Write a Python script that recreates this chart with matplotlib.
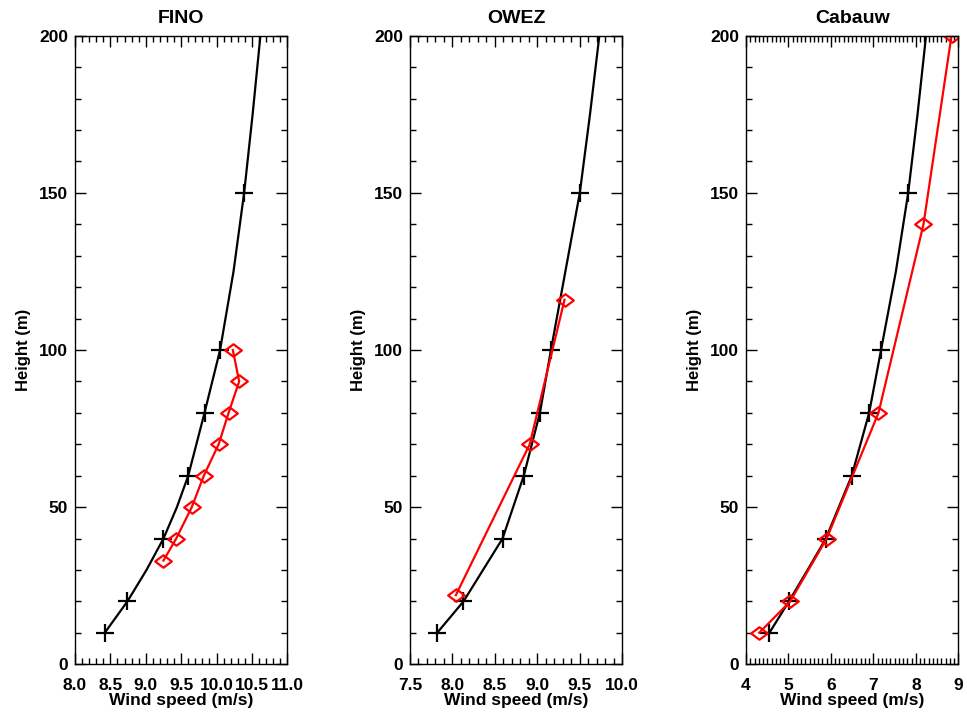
import matplotlib
matplotlib.use("Agg")
import matplotlib.pyplot as plt
from matplotlib.path import Path
from matplotlib.ticker import MultipleLocator, FormatStrFormatter

plt.rcParams['font.family'] = ['Liberation Sans', 'DejaVu Sans']
plt.rcParams['font.weight'] = 'bold'

# FINO
fino_line_h = [10, 20, 30, 40, 50, 60, 80, 100, 125, 150, 175, 200]
fino_line_u = [8.42, 8.74, 9.01, 9.25, 9.44, 9.60, 9.83, 10.05, 10.24, 10.39, 10.51, 10.62]
fino_mark_h = [10, 20, 40, 60, 80, 100, 150]
fino_mark_u = [8.42, 8.74, 9.25, 9.60, 9.83, 10.05, 10.39]
fino_obs_h = [33, 40, 50, 60, 70, 80, 90, 100]
fino_obs_u = [9.25, 9.43, 9.65, 9.82, 10.03, 10.17, 10.32, 10.23]

# OWEZ
owez_line_h = [10, 20, 40, 60, 80, 100, 125, 150, 175, 200]
owez_line_u = [7.82, 8.13, 8.59, 8.84, 9.03, 9.16, 9.33, 9.50, 9.62, 9.73]
owez_mark_h = [10, 20, 40, 60, 80, 100, 150]
owez_mark_u = [7.82, 8.13, 8.59, 8.84, 9.03, 9.16, 9.50]
owez_obs_h = [22, 70, 116]
owez_obs_u = [8.04, 8.91, 9.32]

# Cabauw
cab_line_h = [10, 20, 30, 40, 60, 80, 100, 125, 150, 175, 200]
cab_line_u = [4.55, 5.01, 5.45, 5.88, 6.49, 6.90, 7.18, 7.53, 7.82, 8.04, 8.24]
cab_mark_h = [10, 20, 40, 60, 80, 100, 150]
cab_mark_u = [4.55, 5.01, 5.88, 6.49, 6.90, 7.18, 7.82]
cab_obs_h = [10, 20, 40, 80, 140, 200]
cab_obs_u = [4.31, 5.04, 5.90, 7.12, 8.18, 8.84]

titles = ["FINO", "OWEZ", "Cabauw"]
xlims = [(8.0, 11.0), (7.5, 10.0), (4, 9)]
xmajor = [0.5, 0.5, 1.0]
xfmt = ['%.1f', '%.1f', '%d']

panels = [
    (fino_line_u, fino_line_h, fino_mark_u, fino_mark_h, fino_obs_u, fino_obs_h),
    (owez_line_u, owez_line_h, owez_mark_u, owez_mark_h, owez_obs_u, owez_obs_h),
    (cab_line_u, cab_line_h, cab_mark_u, cab_mark_h, cab_obs_u, cab_obs_h),
]

# wide hollow diamond
diamond = Path([(-1, 0), (0, 0.75), (1, 0), (0, -0.75), (-1, 0)],
               [Path.MOVETO, Path.LINETO, Path.LINETO, Path.LINETO, Path.CLOSEPOLY])

fig = plt.figure(figsize=(9.67, 7.15), dpi=100)
lefts = [0.0776, 0.4240, 0.7715]
for i, (lu, lh, mu, mh, ou, oh) in enumerate(panels):
    ax = fig.add_axes([lefts[i], 0.071, 0.2195, 0.879])
    ax.plot(lu, lh, color='black', lw=1.6)
    ax.plot(mu, mh, linestyle='none', marker='+', color='black', ms=13, mew=1.6)
    ax.plot(ou, oh, color='red', lw=1.6, marker=diamond, ms=12,
            mfc='none', mec='red', mew=1.6)
    ax.set_xlim(*xlims[i])
    ax.set_ylim(0, 200)
    ax.xaxis.set_major_locator(MultipleLocator(xmajor[i]))
    ax.xaxis.set_minor_locator(MultipleLocator(0.1))
    ax.xaxis.set_major_formatter(FormatStrFormatter(xfmt[i]))
    ax.yaxis.set_major_locator(MultipleLocator(50))
    ax.yaxis.set_minor_locator(MultipleLocator(10))
    ax.tick_params(which='both', direction='in', top=True, right=True,
                   labelsize=12.5, width=1)
    ax.tick_params(axis='x', pad=10)
    ax.tick_params(axis='y', pad=5)
    ax.tick_params(which='major', length=8)
    ax.tick_params(which='minor', length=4)
    for lbl in ax.get_xticklabels() + ax.get_yticklabels():
        lbl.set_fontweight('bold')
    ax.set_title(titles[i], fontsize=14, fontweight='bold', pad=9)
    ax.set_xlabel("Wind speed (m/s)", fontsize=12.5, fontweight='bold', labelpad=0)
    ax.set_ylabel("Height (m)", fontsize=12, fontweight='bold', labelpad=6)
    for s in ax.spines.values():
        s.set_linewidth(1)

fig.savefig("out.png", dpi=100)
